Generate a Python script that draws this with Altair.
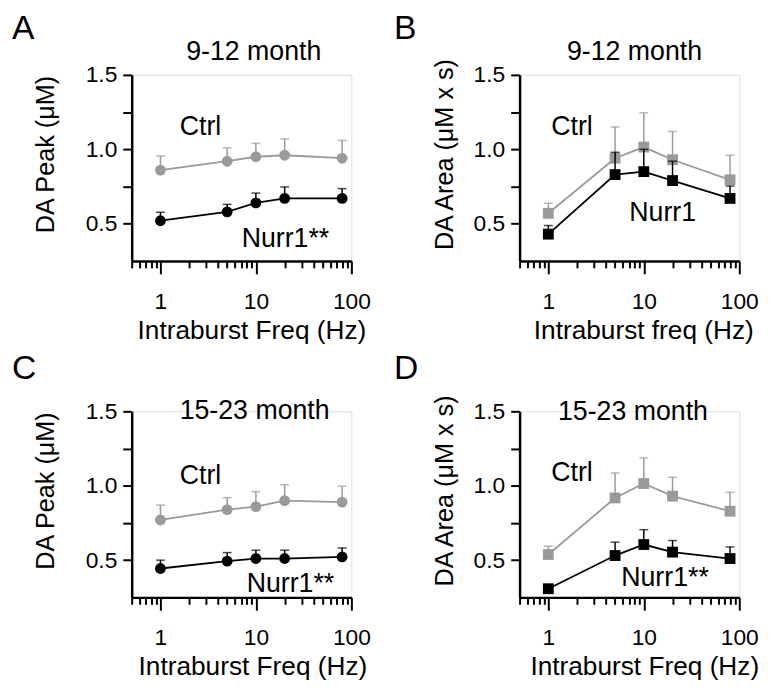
import altair as alt
import pandas as pd

FONT = "Liberation Sans"
GRAY = "#9a9a9a"

freq = [1, 5, 10, 20, 80]

# Panel A: DA Peak, 9-12 month
a_ctrl = [0.86, 0.92, 0.95, 0.96, 0.94]
a_ctrl_sem = [0.095, 0.09, 0.09, 0.11, 0.12]
a_nurr = [0.52, 0.58, 0.64, 0.67, 0.67]
a_nurr_sem = [0.057, 0.05, 0.066, 0.077, 0.066]

# Panel B: DA Area, 9-12 month
b_ctrl = [0.57, 0.94, 1.015, 0.93, 0.795]
b_ctrl_sem = [0.067, 0.21, 0.23, 0.19, 0.165]
b_nurr = [0.43, 0.83, 0.85, 0.79, 0.67]
b_nurr_sem = [0.058, 0.15, 0.15, 0.13, 0.083]

# Panel C: DA Peak, 15-23 month
c_ctrl = [0.77, 0.84, 0.86, 0.90, 0.89]
c_ctrl_sem = [0.10, 0.08, 0.10, 0.107, 0.107]
c_nurr = [0.444, 0.493, 0.511, 0.511, 0.522]
c_nurr_sem = [0.056, 0.058, 0.056, 0.056, 0.06]

# Panel D: DA Area, 15-23 month
d_ctrl = [0.538, 0.918, 1.015, 0.93, 0.829]
d_ctrl_sem = [0.056, 0.168, 0.171, 0.127, 0.127]
d_nurr = [0.308, 0.531, 0.605, 0.554, 0.511]
d_nurr_sem = [0.02, 0.09, 0.1, 0.078, 0.078]

x_ticks = [0.5, 0.6, 0.7, 0.8, 0.9, 1, 2, 3, 4, 5, 6, 7, 8, 9,
           10, 20, 30, 40, 50, 60, 70, 80, 90, 100]
y_ticks = [0.5, 0.75, 1.0, 1.25, 1.5]

xscale = alt.Scale(type="log", domain=[0.5, 100], nice=False)
yscale = alt.Scale(domain=[0.25, 1.5], nice=False, zero=False)

MAJOR = "datum.value == 1 || datum.value == 10 || datum.value == 100"


def panel(ctrl, ctrl_sem, nurr, nurr_sem, shape, ytitle, xtitle,
          month, month_xy, ctrl_xy, nurr_text, nurr_xy,
          letter, letter_xy, ytitle_x, xtitle_x):
    rows = []
    for grp, vals, sems in (("Ctrl", ctrl, ctrl_sem), ("Nurr1", nurr, nurr_sem)):
        for f, v, s in zip(freq, vals, sems):
            rows.append({"freq": f, "val": v, "top": v + s, "grp": grp})
    df = pd.DataFrame(rows)

    xaxis = alt.Axis(
        values=x_ticks, labelExpr=MAJOR + " ? format(datum.value, 'd') : ''",
        tickSize={"condition": {"test": MAJOR, "value": 13}, "value": 7},
        tickWidth=2, tickColor="black", domainWidth=2.5, domainColor="black",
        labelFontSize=23, labelColor="black", labelFont=FONT,
        labelBaseline="alphabetic", labelPadding=35,
        labelOverlap=False, labelFlush=False, grid=False,
        title=xtitle, titleFontSize=26.5, titleFont=FONT, titleColor="black",
        titleFontWeight="normal", titleX=xtitle_x, titleY=78,
        titleBaseline="alphabetic", titleAlign="center",
    )
    yaxis = alt.Axis(
        values=y_ticks,
        labelExpr="datum.value == 0.5 || datum.value == 1 || datum.value == 1.5 ? format(datum.value, '.1f') : ''",
        tickSize=9, tickWidth=2, tickColor="black", domainWidth=2.5,
        domainColor="black", labelFontSize=23, labelColor="black",
        labelFont=FONT, labelPadding=6, labelOverlap=False, labelFlush=False,
        grid=False, title=ytitle, titleFontSize=25.5, titleFont=FONT,
        titleColor="black", titleFontWeight="normal", titleX=ytitle_x,
        titleY=80, titleBaseline="middle", titleAlign="center", titleAngle=270,
    )

    def X(field):
        return alt.X(field, scale=xscale, axis=xaxis)

    def Y(field):
        return alt.Y(field, scale=yscale, axis=yaxis)

    base = alt.Chart(df)
    layers = []
    for grp, col in (("Ctrl", GRAY), ("Nurr1", "black")):
        sub = base.transform_filter(f"datum.grp == '{grp}'")
        layers.append(sub.mark_rule(color=col, strokeWidth=1.5).encode(
            x=X("freq:Q"), y=Y("val:Q"), y2="top:Q"))
        layers.append(sub.mark_tick(orient="horizontal", size=9, thickness=1.5,
                                    color=col).encode(
            x=X("freq:Q"), y=Y("top:Q")))
        layers.append(sub.mark_line(color=col, strokeWidth=1.8).encode(
            x=X("freq:Q"), y=Y("val:Q")))
        layers.append(sub.mark_point(shape=shape, filled=True, size=120,
                                     color=col, opacity=1).encode(
            x=X("freq:Q"), y=Y("val:Q")))

    def label(text, xy, align, size=27):
        d = pd.DataFrame({"freq": [xy[0]], "val": [xy[1]], "t": [text]})
        return alt.Chart(d).mark_text(
            align=align, baseline="alphabetic", fontSize=size, font=FONT,
            color="black").encode(x=X("freq:Q"), y=Y("val:Q"), text="t:N")

    layers.append(label(month, month_xy, "center"))
    layers.append(label("Ctrl", ctrl_xy, "center"))
    layers.append(label(nurr_text, nurr_xy, "left"))
    ld = pd.DataFrame({"t": [letter]})
    layers.append(alt.Chart(ld).mark_text(
        align="left", baseline="top", fontSize=34, font=FONT,
        color="black").encode(x=alt.value(letter_xy[0]),
                              y=alt.value(letter_xy[1]), text="t:N"))
    return alt.layer(*layers).properties(width=222, height=188)


pA = panel(a_ctrl, a_ctrl_sem, a_nurr, a_nurr_sem, "circle",
           "DA Peak (μM)", "Intraburst Freq (Hz)",
           "9-12 month", (9.5, 1.60), (2.63, 1.099), "Nurr1**", (7.1, 0.342),
           "A", (-121, -63), -87, 121)
pB = panel(b_ctrl, b_ctrl_sem, b_nurr, b_nurr_sem, "square",
           "DA Area (μM x s)", "Intraburst freq (Hz)",
           "9-12 month", (8.0, 1.60), (1.77, 1.099), "Nurr1", (7.05, 0.515),
           "B", (-127, -63), -76, 125)
pC = panel(c_ctrl, c_ctrl_sem, c_nurr, c_nurr_sem, "circle",
           "DA Peak  (μM)", "Intraburst Freq (Hz)",
           "15-23 month", (9.7, 1.448), (2.63, 1.011), "Nurr1**", (8.0, 0.284),
           "C", (-121, -59.5), -87, 122)
pD = panel(d_ctrl, d_ctrl_sem, d_nurr, d_nurr_sem, "square",
           "DA Area (μM x s)", "Intraburst Freq (Hz)",
           "15-23 month", (7.7, 1.445), (1.77, 1.031), "Nurr1**", (5.8, 0.329),
           "D", (-127, -59.5), -76, 126)

chart = alt.concat(
    pA, pB, pC, pD, columns=2, spacing={"row": 152, "column": 170},
    bounds="flush",
).properties(
    padding={"left": 3, "top": 0, "right": 5, "bottom": 5}
).configure_view(strokeWidth=0, strokeOpacity=0).configure(
    font=FONT, background="white")

chart.save("out.html", embed_options={"renderer": "svg", "actions": False})
